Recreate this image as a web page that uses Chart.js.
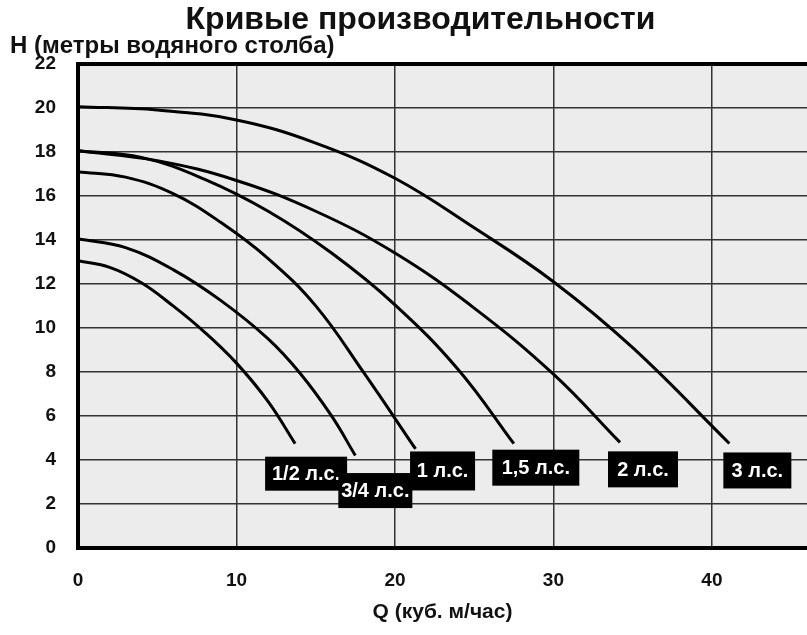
<!DOCTYPE html>
<html>
<head>
<meta charset="utf-8">
<script src="https://cdn.jsdelivr.net/npm/chart.js@4.4.1/dist/chart.umd.min.js"></script>
<style>
    html, body { margin: 0; padding: 0; background: #fff; }
    canvas { display: block; }
</style>
</head>
<body>
<canvas id="pumpChart" width="807" height="635"></canvas>
<script>
// Pump curves: flow Q (m3/h) vs head H (m), one pair of arrays per motor power
const seriesNames = ['1/2 л.с.', '3/4 л.с.', '1 л.с.', '1,5 л.с.', '2 л.с.', '3 л.с.'];

const qHalf = [0, 2, 4, 6, 8, 10, 12, 13.7];
const hHalf = [13.05, 12.75, 12.05, 11.0, 9.8, 8.4, 6.65, 4.74];

const qThreeQuarter = [0, 3, 6, 9, 12, 14, 16, 17.5];
const hThreeQuarter = [14.05, 13.65, 12.65, 11.25, 9.5, 7.95, 6.0, 4.2];

const qOne = [0, 3, 6, 9, 12, 15, 18, 21.3];
const hOne = [17.1, 16.85, 16.1, 14.8, 13.15, 11.0, 8.0, 4.5];

const qOneHalf = [0, 4, 8, 12, 16, 20, 24, 27.5];
const hOneHalf = [18.05, 17.75, 16.75, 15.3, 13.4, 11.05, 8.1, 4.74];

const qTwo = [0, 5, 10, 15, 20, 25, 30, 34.2];
const hTwo = [18.05, 17.6, 16.7, 15.3, 13.4, 10.9, 7.9, 4.8];

const qThree = [0, 5, 10, 15, 20, 25, 30, 35, 41.1];
const hThree = [20.05, 19.9, 19.45, 18.4, 16.8, 14.55, 12.1, 9.1, 4.75];

const xTicks = [0, 10, 20, 30, 40];
const yTicks = [0, 2, 4, 6, 8, 10, 12, 14, 16, 18, 20, 22];

const curves = [
    [qHalf, hHalf],
    [qThreeQuarter, hThreeQuarter],
    [qOne, hOne],
    [qOneHalf, hOneHalf],
    [qTwo, hTwo],
    [qThree, hThree]
];

// tag boxes: pixel offset of box centre from the curve end, box size
const tagStyle = [
    { dx: 11, dy: 30, w: 82, h: 34 },
    { dx: 20, dy: 35, w: 74, h: 35 },
    { dx: 27, dy: 22, w: 65, h: 39 },
    { dx: 22, dy: 24, w: 87, h: 36 },
    { dx: 23, dy: 27, w: 70, h: 36 },
    { dx: 28, dy: 27, w: 68, h: 36 }
];

const FONT = 'Liberation Sans, Arial, sans-serif';

const datasets = curves.map((c, i) => ({
    label: seriesNames[i],
    data: c[0].map((q, j) => ({ x: q, y: c[1][j] })),
    showLine: true,
    borderColor: '#000',
    borderWidth: 3,
    pointRadius: 0,
    tension: 0.4,
    fill: false
}));

// light grey paper behind the grid
const plotBg = {
    id: 'plotBg',
    beforeDraw(chart) {
        const a = chart.chartArea;
        const ctx = chart.ctx;
        ctx.save();
        ctx.fillStyle = '#ececec';
        ctx.fillRect(a.left, a.top, a.right - a.left, a.bottom - a.top);
        ctx.restore();
    }
};

// black boxes with the power labels at the end of each curve
const hpTags = {
    id: 'hpTags',
    afterDatasetsDraw(chart) {
        const ctx = chart.ctx;
        const xs = chart.scales.x, ys = chart.scales.y;
        ctx.save();
        curves.forEach((c, i) => {
            const n = c[0].length - 1;
            const px = xs.getPixelForValue(c[0][n]);
            const py = ys.getPixelForValue(c[1][n]);
            const s = tagStyle[i];
            const cx = px + s.dx, cy = py + s.dy;
            ctx.fillStyle = '#000';
            ctx.fillRect(cx - s.w / 2, cy - s.h / 2, s.w, s.h);
            ctx.fillStyle = '#fff';
            ctx.font = 'bold 20px ' + FONT;
            ctx.textAlign = 'center';
            ctx.textBaseline = 'middle';
            ctx.fillText(seriesNames[i], cx, cy + 1);
        });
        ctx.restore();
    }
};

const chart = new Chart(document.getElementById('pumpChart'), {
    type: 'scatter',
    data: { datasets: datasets },
    plugins: [plotBg, hpTags],
    options: {
        responsive: false,
        animation: false,
        // negative right padding moves the centred title over, as in the cropped original
        layout: { padding: { left: 10, right: -24, top: 0, bottom: 0 } },
        plugins: {
            legend: { display: false },
            tooltip: { enabled: false },
            title: {
                display: true,
                text: 'Кривые производительности',
                color: '#111',
                font: { size: 32, weight: 'bold', family: FONT, lineHeight: 1.05 },
                padding: { top: 3, bottom: 0 }
            },
            subtitle: {
                display: true,
                text: 'H (метры водяного столба)',
                align: 'start',
                color: '#111',
                font: { size: 24, weight: 'bold', family: FONT, lineHeight: 0.8 },
                padding: { top: 0, bottom: 8 }
            }
        },
        scales: {
            x: {
                type: 'linear',
                min: 0,
                max: 46,
                afterBuildTicks: s => { s.ticks = xTicks.map(v => ({ value: v })); },
                afterFit: s => { s.height = 87; },
                ticks: {
                    padding: 21,
                    color: '#111',
                    font: { size: 19, weight: 'bold', family: FONT }
                },
                grid: { drawTicks: false, color: '#333', lineWidth: 1.5 },
                border: { color: '#000', width: 4 },
                title: {
                    display: true,
                    text: 'Q (куб. м/час)',
                    color: '#111',
                    font: { size: 21, weight: 'bold', family: FONT },
                    padding: { top: 0, bottom: 10 }
                }
            },
            y: {
                min: 0,
                max: 22,
                afterBuildTicks: s => { s.ticks = yTicks.map(v => ({ value: v })); },
                afterFit: s => { s.width = 68; },
                ticks: {
                    padding: 22,
                    color: '#111',
                    font: { size: 19, weight: 'bold', family: FONT }
                },
                grid: {
                    drawTicks: false,
                    color: ctx => ctx.tick && ctx.tick.value === 22 ? '#000' : '#333',
                    lineWidth: ctx => ctx.tick && ctx.tick.value === 22 ? 4 : 1.5
                },
                border: { color: '#000', width: 4 }
            }
        }
    }
});
</script>
</body>
</html>
